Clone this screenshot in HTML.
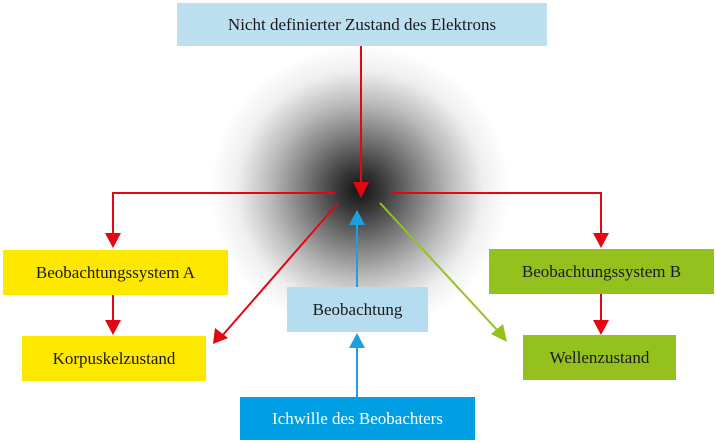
<!DOCTYPE html>
<html><head><meta charset="utf-8"><style>
body{margin:0;width:716px;height:443px;background:#fff;position:relative;overflow:hidden;font-family:"Liberation Serif",serif;}
.b{position:absolute;display:flex;align-items:center;justify-content:center;font-size:17px;color:#1a1a1a;white-space:nowrap;}
.blob{position:absolute;left:210px;top:45px;width:300px;height:290px;background:radial-gradient(closest-side,rgba(20,20,20,1) 0%,rgba(45,45,45,0.95) 15%,rgba(80,80,80,0.8) 35%,rgba(130,130,130,0.55) 60%,rgba(190,190,190,0.25) 82%,rgba(255,255,255,0) 100%);}
</style></head><body>
<div class="blob"></div>
<div class="b" style="left:177px;top:3px;width:370px;height:43px;background:#bde0f1">Nicht definierter Zustand des Elektrons</div>
<div class="b" style="left:3px;top:250px;width:225px;height:45px;background:#ffe800">Beobachtungssystem A</div>
<div class="b" style="left:22px;top:336px;width:184px;height:45px;background:#ffe800">Korpuskelzustand</div>
<div class="b" style="left:287px;top:287px;width:141px;height:45px;background:#b5dcef">Beobachtung</div>
<div class="b" style="left:489px;top:249px;width:225px;height:45px;background:#95c11f">Beobachtungssystem B</div>
<div class="b" style="left:523px;top:335px;width:153px;height:45px;background:#95c11f">Wellenzustand</div>
<div class="b" style="left:240px;top:397px;width:235px;height:43px;background:#009fe3;color:#fff">Ichwille des Beobachters</div>
<svg width="716" height="443" style="position:absolute;left:0;top:0">
<g stroke="#e30613" stroke-width="2" fill="none">
<line x1="361" y1="46" x2="361" y2="185"/>
<polyline points="335,193 113,193 113,236"/>
<polyline points="392,193 601,193 601,236"/>
<line x1="113" y1="295" x2="113" y2="322"/>
<line x1="601" y1="294" x2="601" y2="322"/>
<line x1="338" y1="203" x2="222" y2="336"/>
</g>
<g fill="#e30613">
<polygon points="353,182 369,182 361,198"/>
<polygon points="105,233 121,233 113,248"/>
<polygon points="593,233 609,233 601,248"/>
<polygon points="105,320 121,320 113,335"/>
<polygon points="593,320 609,320 601,335"/>
<polygon points="213,344 215,328 228,338"/>
</g>
<line x1="380" y1="203" x2="498" y2="331" stroke="#95c11f" stroke-width="2"/>
<polygon points="507,342 491,334 503,324" fill="#95c11f"/>
<g stroke="#1ea0e0" stroke-width="2"><line x1="357" y1="287" x2="357" y2="222"/><line x1="357" y1="397" x2="357" y2="346"/></g>
<g fill="#1ea0e0"><polygon points="349,225 365,225 357,210"/><polygon points="349,348 365,348 357,333"/></g>
</svg>
</body></html>
